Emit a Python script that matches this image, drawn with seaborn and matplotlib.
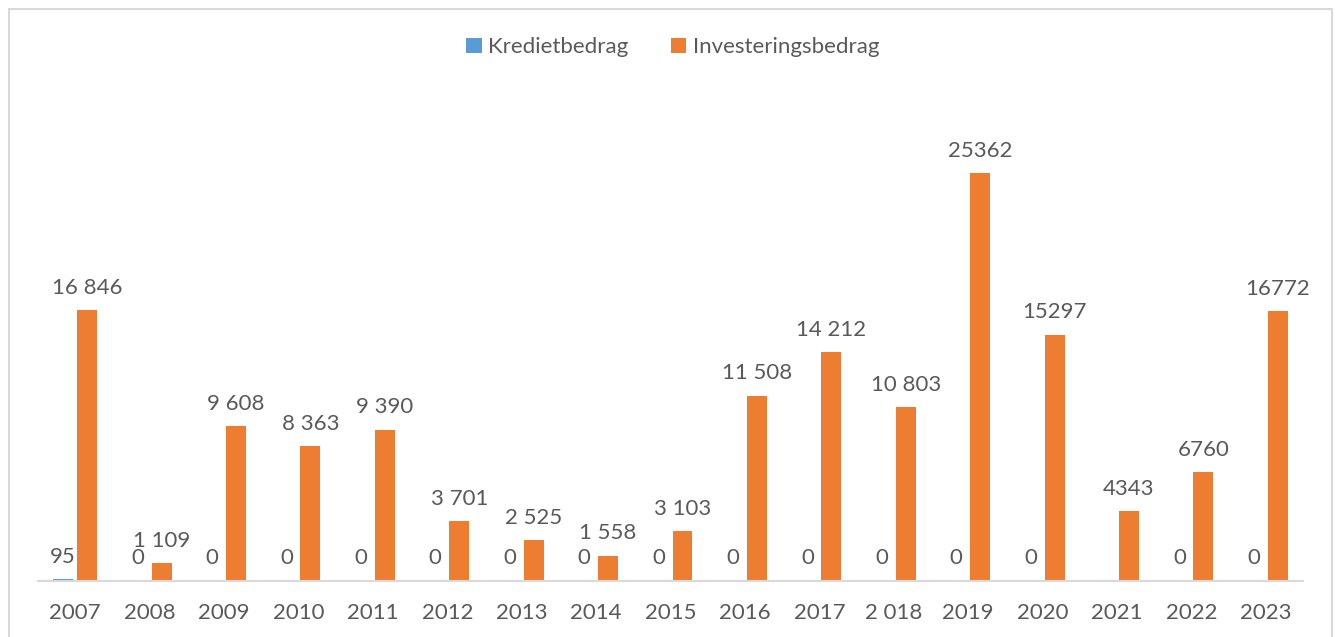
import numpy as np
import pandas as pd
import matplotlib
matplotlib.use("Agg")
import matplotlib.pyplot as plt
from matplotlib.patches import Rectangle, Patch
import seaborn as sns

years = ["2007", "2008", "2009", "2010", "2011", "2012", "2013", "2014", "2015",
         "2016", "2017", "2 018", "2019", "2020", "2021", "2022", "2023"]
krediet = [95, 0, 0, 0, 0, 0, 0, 0, 0, 0, 0, 0, 0, 0, np.nan, 0, 0]
investering = [16846, 1109, 9608, 8363, 9390, 3701, 2525, 1558, 3103,
               11508, 14212, 10803, 25362, 15297, 4343, 6760, 16772]
krediet_labels = ["95", "0", "0", "0", "0", "0", "0", "0", "0",
                  "0", "0", "0", "0", "0", "", "0", "0"]
investering_labels = ["16 846", "1 109", "9 608", "8 363", "9 390", "3 701", "2 525",
                      "1 558", "3 103", "11 508", "14 212", "10 803", "25362",
                      "15297", "4343", "6760", "16772"]
series_names = ["Kredietbedrag", "Investeringsbedrag"]
colors = ["#5B9BD5", "#ED7D31"]

df = pd.DataFrame({
    "year": years * 2,
    "value": krediet + investering,
    "series": [series_names[0]] * len(years) + [series_names[1]] * len(years),
})
df["value"] = df["value"].fillna(0)  # missing value drawn as empty bar

sns.set_theme(style="white")
plt.rcParams["font.family"] = ["Lato", "DejaVu Sans"]
text_color = "#595959"
fs = 16

fig = plt.figure(figsize=(13.4, 6.37), dpi=100)
ax = fig.add_axes([38 / 1340, 56 / 637, 1265 / 1340, 482.6 / 637])

sns.barplot(data=df, x="year", y="value", hue="series", order=years,
            hue_order=series_names, palette=colors, width=0.645, gap=0.167,
            dodge=True, legend=False, ax=ax, saturation=1, linewidth=0,
            errorbar=None)

for cont, labs in zip(ax.containers, [krediet_labels, investering_labels]):
    ax.bar_label(cont, labels=labs, padding=9, fontsize=fs, color=text_color)

ax.set_ylim(0, 30000)
ax.set_xlim(-0.5, len(years) - 0.5)
ax.set_xlabel("")
ax.set_ylabel("")
ax.set_yticks([])
for s in ["left", "right", "top"]:
    ax.spines[s].set_visible(False)
ax.spines["bottom"].set_color("#D9D9D9")
ax.spines["bottom"].set_linewidth(1.5)
ax.tick_params(axis="x", length=0, pad=16, labelsize=fs, labelcolor=text_color)

handles = [Patch(facecolor=c, edgecolor="none") for c in colors]
fig.legend(handles, series_names, loc="center", bbox_to_anchor=(0.502, 0.926),
           ncol=2, frameon=False, fontsize=fs, labelcolor=text_color,
           handlelength=0.7, handleheight=0.7, handletextpad=0.3, columnspacing=1.9)

fig.patches.append(Rectangle((9 / 1340, -0.05), 1323 / 1340, 1.05 - 9 / 637,
                             transform=fig.transFigure, fill=False,
                             edgecolor="#D9D9D9", linewidth=1.5))

fig.savefig("out.png", dpi=100)
